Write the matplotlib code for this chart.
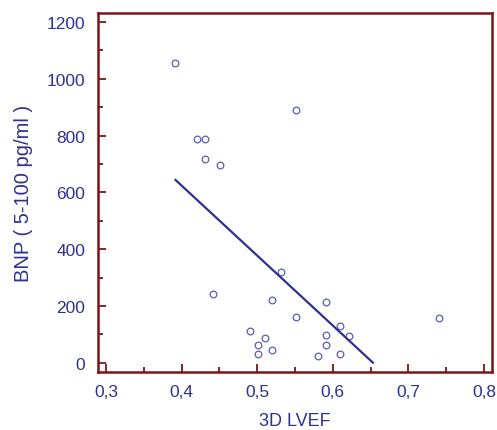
import matplotlib
matplotlib.use("Agg")
import matplotlib.pyplot as plt
import numpy as np
from matplotlib.ticker import MultipleLocator, FuncFormatter

# Data
lvef = [0.391, 0.551, 0.420, 0.431, 0.431, 0.451, 0.531, 0.441, 0.520, 0.591,
        0.551, 0.740, 0.610, 0.491, 0.591, 0.621, 0.510, 0.501, 0.591, 0.520,
        0.501, 0.610, 0.580]
bnp = [1056, 889, 788, 788, 719, 698, 320, 243, 222, 213,
       162, 158, 129, 111, 97, 96, 88, 64, 64, 46,
       30, 30, 25]

# Regression line (intercept, slope) and its x extent
fit_intercept = 1610
fit_slope = -2464
fit_x_range = [0.392, 0.653]

x_ticks = [0.3, 0.4, 0.5, 0.6, 0.7, 0.8]
y_ticks = [0, 200, 400, 600, 800, 1000, 1200]

navy = "#2e3192"
marker_col = "#5b5db8"
spine_col = "#7a1518"

plt.rcParams['font.family'] = ['Liberation Sans', 'DejaVu Sans']

fig = plt.figure(figsize=(4.97, 4.31), dpi=100)
ax = fig.add_axes([0.197, 0.1346, 0.793, 0.833])

ax.plot(lvef, bnp, linestyle='none', marker='o', markersize=4.8,
        markerfacecolor='none', markeredgecolor=marker_col, markeredgewidth=0.9)

fx = np.array(fit_x_range)
ax.plot(fx, fit_intercept + fit_slope * fx, color=navy, linewidth=1.6)

ax.set_xlim(0.2894, 0.8106)
ax.set_ylim(-32, 1232)
ax.set_xticks(x_ticks)
ax.set_yticks(y_ticks)
ax.xaxis.set_minor_locator(MultipleLocator(0.05))
ax.yaxis.set_minor_locator(MultipleLocator(100))
ax.xaxis.set_major_formatter(FuncFormatter(lambda v, p: f"{v:.1f}".replace('.', ',')))

for s in ax.spines.values():
    s.set_color(spine_col)
    s.set_linewidth(1.8)

ax.tick_params(which='both', direction='in', color=spine_col, width=1.3,
               labelcolor=navy, labelsize=12.5)
ax.tick_params(which='major', length=6)
ax.tick_params(axis='y', which='major', pad=9)
ax.tick_params(axis='x', which='major', pad=9)
ax.tick_params(which='minor', length=3.5)

ax.set_xlabel("3D LVEF", color=navy, fontsize=13, labelpad=9)
ax.set_ylabel("BNP ( 5-100 pg/ml )", color=navy, fontsize=14.5, labelpad=10)

fig.savefig("out.png", dpi=100)
